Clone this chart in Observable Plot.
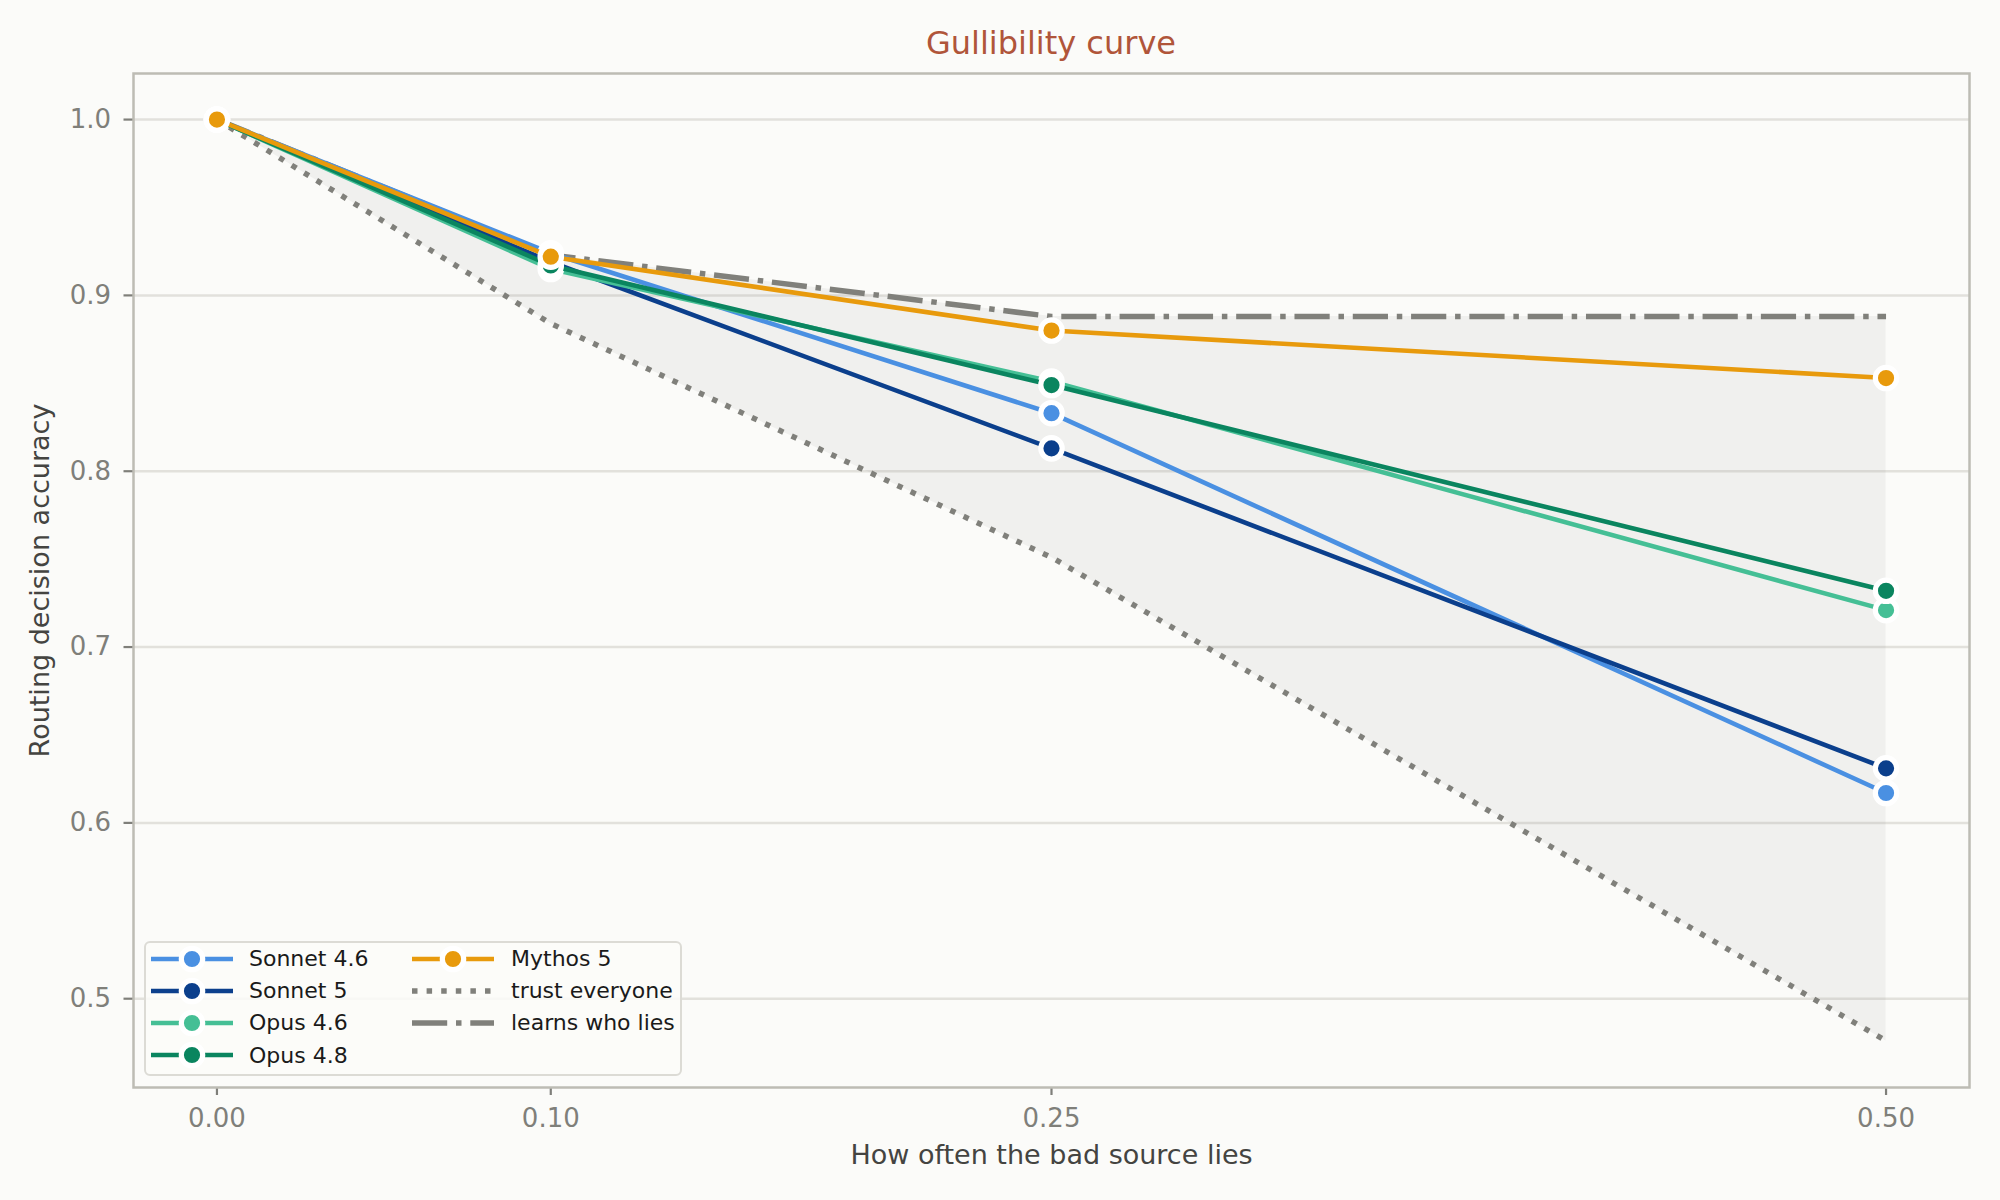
<!DOCTYPE html>
<html>
<head>
<meta charset="utf-8">
<script src="https://cdn.jsdelivr.net/npm/d3@7"></script>
<script src="https://cdn.jsdelivr.net/npm/@observablehq/plot@0.6"></script>
<style>
  html, body { margin: 0; padding: 0; background: #fbfbf9; }
  body { font-family: "DejaVu Sans", sans-serif; }
  #wrap { position: relative; width: 2000px; height: 1200px; overflow: hidden; }
  #title {
    margin-left: 133px; width: 1836px; height: 62px; box-sizing: border-box;
    padding-top: 25px; line-height: 37px; font-size: 32px; text-align: center;
    color: #b0553a; white-space: nowrap;
  }
  #legend {
    position: absolute; left: 144px; top: 941px; width: 538px; height: 135px;
    box-sizing: border-box; border: 2px solid #dcdbd5; border-radius: 6px;
    background: rgba(251,251,249,0.85);
  }
  .lg-text {
    position: absolute; height: 30px; line-height: 30px; font-size: 22px;
    color: #1a1a1a; white-space: nowrap;
  }
  .lg-handle { position: absolute; }
</style>
</head>
<body>
<div id="wrap">
  <div id="title">Gullibility curve</div>
  <div id="chart"></div>
  <div id="legend"></div>
</div>
<script>
// ---- data ----
const xs = [0, 0.10, 0.25, 0.50];
const xTicks = [0, 0.10, 0.25, 0.50];
const yTicks = [0.5, 0.6, 0.7, 0.8, 0.9, 1.0];

const sonnet46 = [1.000, 0.924, 0.833, 0.617];
const sonnet5  = [1.000, 0.919, 0.813, 0.631];
const opus46   = [1.000, 0.915, 0.851, 0.721];
const opus48   = [1.000, 0.917, 0.849, 0.732];
const mythos5  = [1.000, 0.922, 0.880, 0.853];
const trustEveryone = [1.000, 0.884, 0.751, 0.476];
const learnsWhoLies = [1.000, 0.923, 0.888, 0.888];

const seriesNames  = ["Sonnet 4.6", "Sonnet 5", "Opus 4.6", "Opus 4.8", "Mythos 5"];
const seriesValues = [sonnet46, sonnet5, opus46, opus48, mythos5];
const seriesColors = ["#4a90e2", "#0b3f8c", "#45bf95", "#0a855f", "#e89a0c"];
const refNames = ["trust everyone", "learns who lies"];
const refColor = "#80807b";

const titleText = "Gullibility curve";
const xLabel = "How often the bad source lies";
const yLabel = "Routing decision accuracy";

// ---- build tables ----
const refTable = xs.map((x, i) => ({x, trust: trustEveryone[i], learns: learnsWhoLies[i]}));
const series = seriesNames.map((name, k) => ({
  name, color: seriesColors[k],
  data: xs.map((x, i) => ({x, y: seriesValues[k][i], name}))
}));

const dotted = "5.5,9.1";
const dashdot = "35.2,8.8,5.5,8.8";
const lineW = 4.6;

const marks = [
  Plot.gridY(yTicks, {stroke: "#e2e1dc", strokeOpacity: 1, strokeWidth: 2.5}),
  Plot.areaY(refTable, {x: "x", y1: "trust", y2: "learns", fill: "#7f7f7f", fillOpacity: 0.085}),
  Plot.line(refTable, {x: "x", y: "trust", stroke: refColor, strokeWidth: 5.5, strokeDasharray: dotted, strokeLinecap: "butt"}),
  Plot.line(refTable, {x: "x", y: "learns", stroke: refColor, strokeWidth: 5.5, strokeDasharray: dashdot, strokeLinecap: "butt"}),
];
for (const s of series) {
  marks.push(Plot.line(s.data, {x: "x", y: "y", stroke: s.color, strokeWidth: lineW, strokeLinejoin: "round", strokeLinecap: "round"}));
  marks.push(Plot.dot(s.data, {x: "x", y: "y", r: 10.7, fill: s.color, stroke: "white", strokeWidth: 5.2}));
}
marks.push(
  Plot.axisX(xTicks, {tickFormat: d3.format(".2f"), tickSize: 8, tickPadding: 13, fontSize: 26, color: "#7f7f7a", strokeWidth: 2.2, label: null}),
  Plot.axisY(yTicks, {tickFormat: d3.format(".1f"), tickSize: 9.5, tickPadding: 13, fontSize: 26, color: "#7f7f7a", strokeWidth: 2.2, label: null}),
  Plot.text([xLabel], {frameAnchor: "bottom", dy: 68, lineAnchor: "middle", textAnchor: "middle", fontSize: 27, fill: "#444441"}),
  Plot.text([yLabel], {frameAnchor: "left", dx: -93, rotate: -90, lineAnchor: "middle", textAnchor: "middle", fontSize: 27, fill: "#444441"}),
  Plot.frame({stroke: "#bdbcb4", strokeWidth: 2.5})
);

const chart = Plot.plot({
  width: 2000,
  height: 1138,
  marginTop: 11,
  marginLeft: 133,
  marginRight: 31,
  marginBottom: 113,
  x: {type: "linear", domain: [-0.025, 0.525]},
  y: {type: "linear", domain: [0.4495, 1.0262]},
  style: {background: "transparent", fontFamily: "DejaVu Sans, sans-serif", overflow: "visible"},
  marks
});
document.getElementById("chart").appendChild(chart);

// ---- legend ----
const legend = d3.select("#legend");
const rowY = i => 15.5 + i * 32.3;
const cols = [{handle: 4.7, text: 103}, {handle: 265.7, text: 365}];
const items = [
  ...series.map(s => ({name: s.name, color: s.color, kind: "marker"})),
  {name: refNames[0], color: refColor, kind: "dotted"},
  {name: refNames[1], color: refColor, kind: "dashdot"}
];
items.forEach((it, idx) => {
  const col = idx < 4 ? 0 : 1;
  const row = idx < 4 ? idx : idx - 4;
  const y = rowY(row);
  const svg = legend.append("svg").attr("class", "lg-handle")
    .attr("width", 82).attr("height", 30)
    .style("left", cols[col].handle + "px").style("top", (y - 15) + "px");
  if (it.kind === "marker") {
    svg.append("line").attr("x1", 0).attr("x2", 82).attr("y1", 15).attr("y2", 15)
      .attr("stroke", it.color).attr("stroke-width", lineW);
    svg.append("circle").attr("cx", 41).attr("cy", 15).attr("r", 10.7)
      .attr("fill", it.color).attr("stroke", "white").attr("stroke-width", 5.2);
  } else {
    svg.append("line").attr("x1", 0).attr("x2", 82).attr("y1", 15).attr("y2", 15)
      .attr("stroke", it.color).attr("stroke-width", 5.5)
      .attr("stroke-dasharray", it.kind === "dotted" ? dotted : dashdot);
  }
  legend.append("div").attr("class", "lg-text")
    .style("left", cols[col].text + "px").style("top", (y - 14.8) + "px")
    .text(it.name);
});
</script>
</body>
</html>
